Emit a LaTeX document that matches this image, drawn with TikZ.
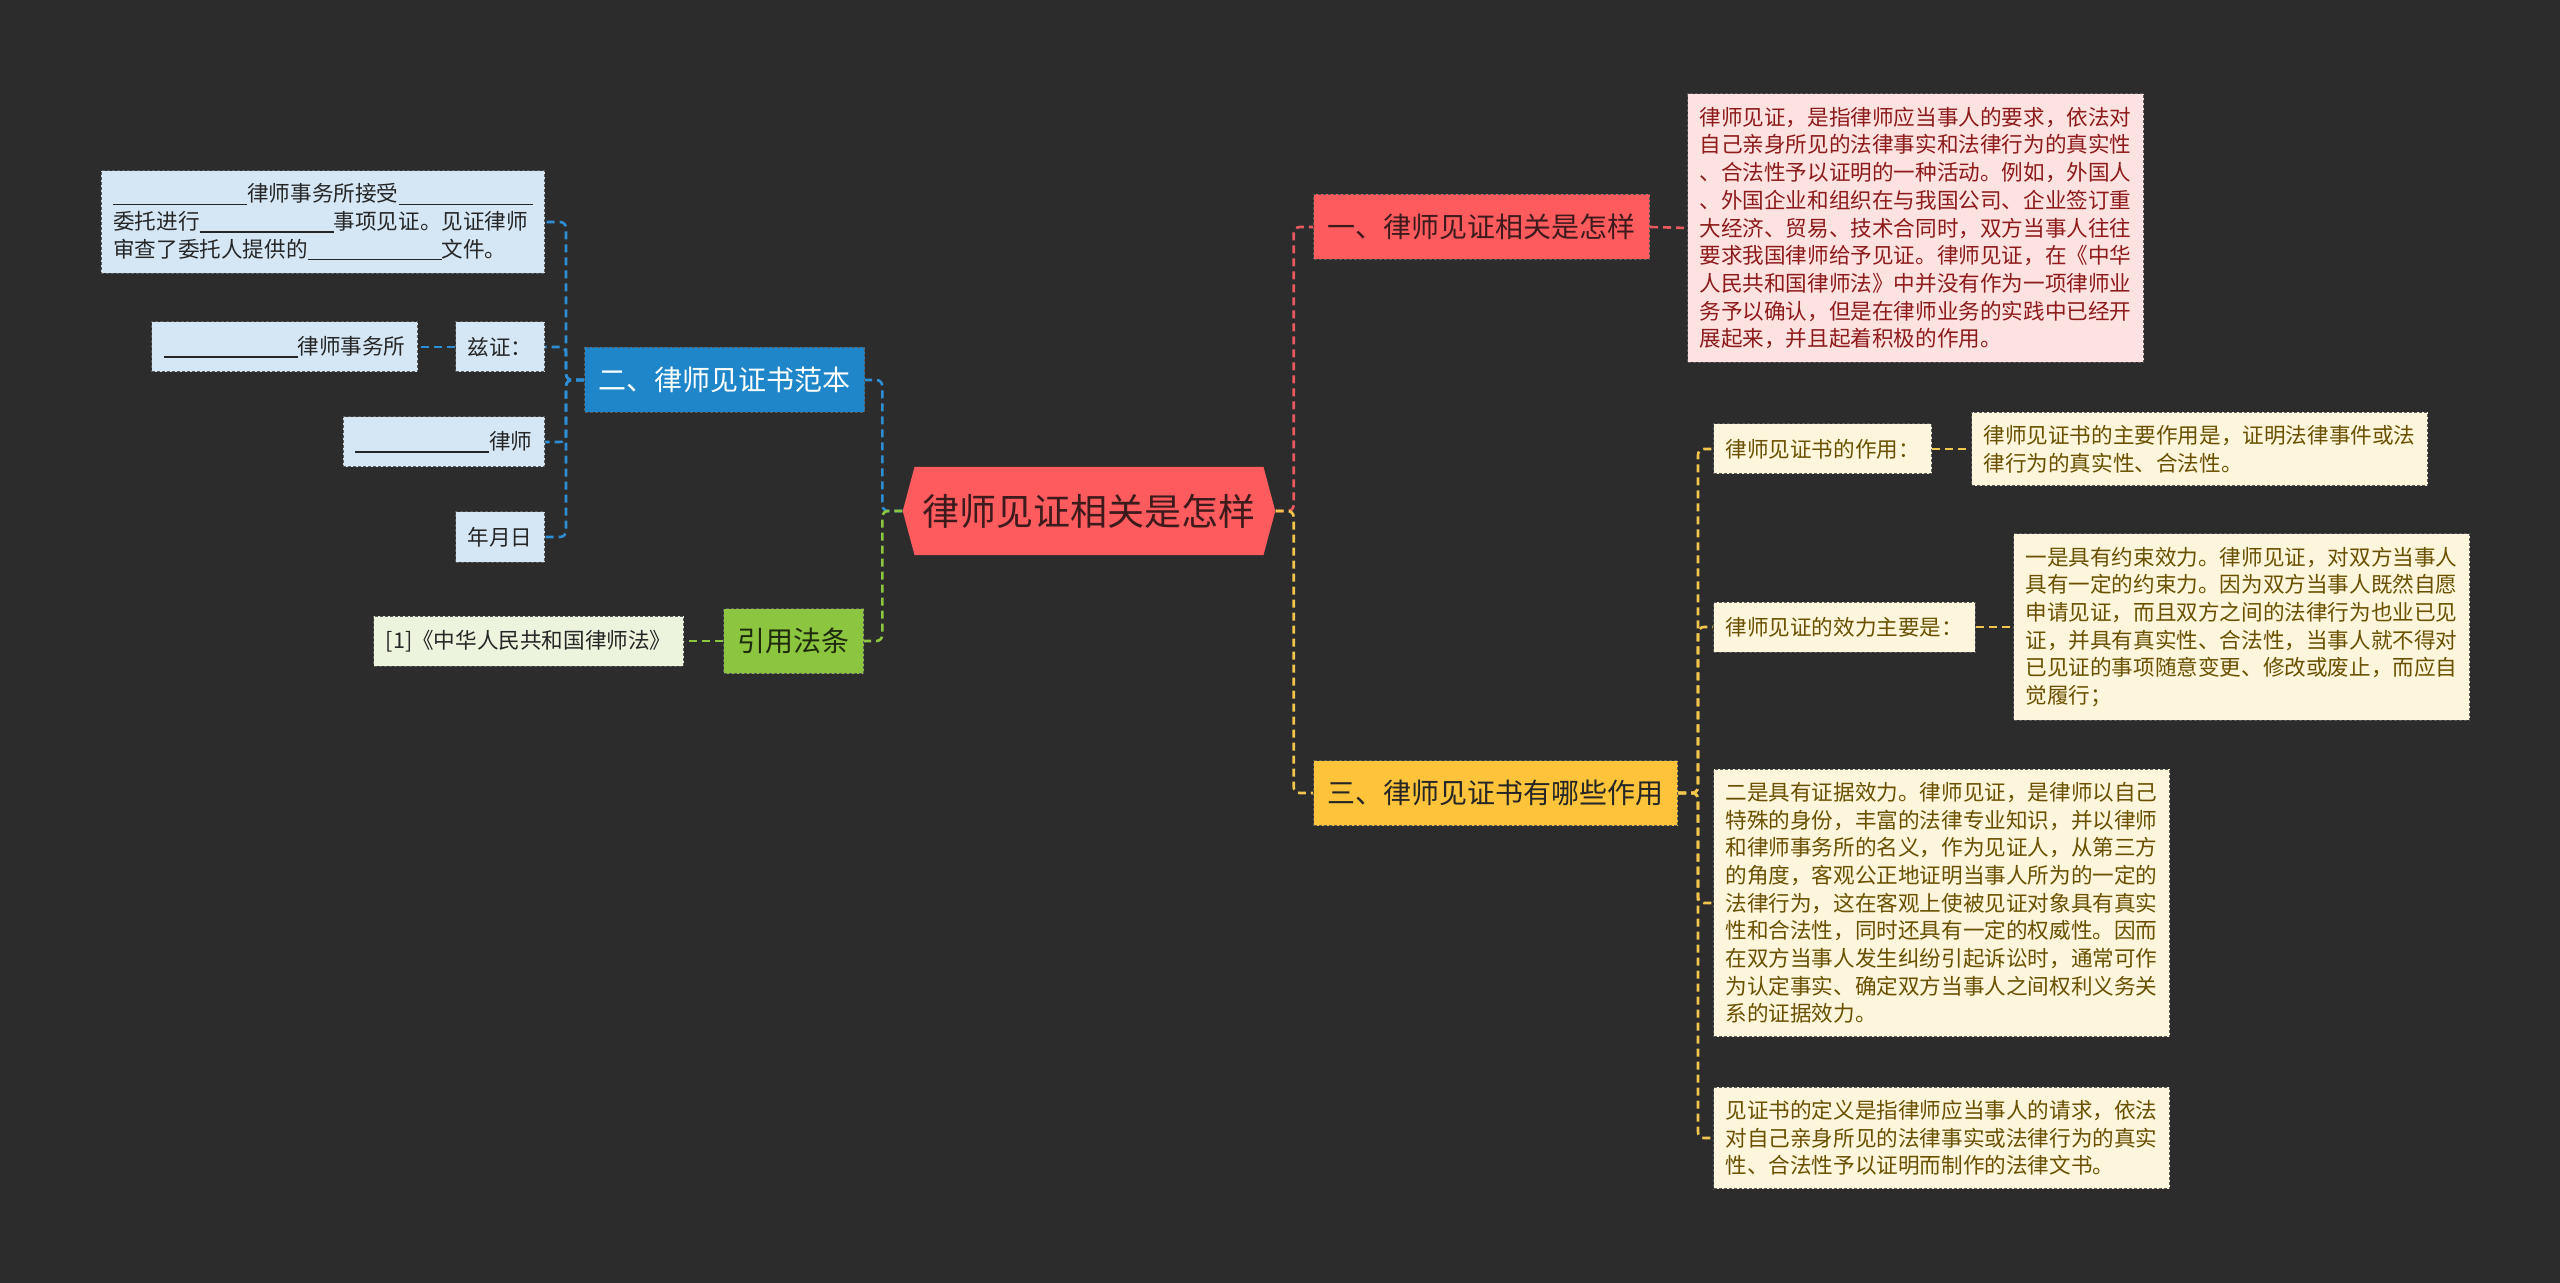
\documentclass[tikz,border=0pt]{standalone}
\usepackage{fontspec}
\newfontfamily\cjkfont{Noto Sans CJK SC}
\usetikzlibrary{shapes.symbols}
\definecolor{bgcol}{HTML}{2C2C2C}
\definecolor{rootred}{HTML}{FE5B5F}
\definecolor{rootink}{HTML}{3D1A1C}
\definecolor{pinkfill}{HTML}{FDE2E2}
\definecolor{pinkink}{HTML}{8E1B1B}
\definecolor{bluefill}{HTML}{1F86C9}
\definecolor{blueleaf}{HTML}{D5E7F5}
\definecolor{greenfill}{HTML}{8CC540}
\definecolor{greenleaf}{HTML}{EDF4DE}
\definecolor{greenink}{HTML}{1E2A0C}
\definecolor{yellowfill}{HTML}{FDC33B}
\definecolor{yellowleaf}{HTML}{FDF6DD}
\definecolor{yellowink}{HTML}{6A5000}
\definecolor{bluelinkc}{HTML}{2E8ED4}
\definecolor{greenlinkc}{HTML}{8CC63F}
\definecolor{redlinkc}{HTML}{E85A60}
\definecolor{yellowlinkc}{HTML}{F2C64C}
\newcommand{\gapline}{\rule[-1.5pt]{67pt}{0.6pt}}
\tikzset{
    rootnode/.style={signal, signal to=east and west, signal pointer angle=150,
    	fill=rootred, text=rootink, minimum height=44pt, inner xsep=4pt,
    	font=\cjkfont\fontsize{18.5pt}{20pt}\selectfont}
}
\tikzset{
    topic/.style={rectangle, draw=black!65, line width=0.5pt,
    	dash pattern=on 1.5pt off 1pt, minimum height=32.5pt, inner xsep=7pt,
    	font=\cjkfont\fontsize{14pt}{16pt}\selectfont},
    leaf/.style={rectangle, draw=black!65, line width=0.5pt,
    	dash pattern=on 1.5pt off 1pt, minimum height=25pt, inner xsep=6pt,
    	inner ysep=6.5pt, align=left,
    	font=\cjkfont\fontsize{10.8pt}{13.85pt}\selectfont}
}
\tikzset{
    link/.style={line width=1.3pt, dash pattern=on 4pt off 2.5pt,
    	rounded corners=3pt},
    bluelink/.style={link, draw=bluelinkc},
    greenlink/.style={link, draw=greenlinkc},
    redlink/.style={link, draw=redlinkc},
    yellowlink/.style={link, draw=yellowlinkc}
}
\pgfdeclarelayer{background}
\pgfsetlayers{background,main}

\begin{document}
\begin{tikzpicture}[x=0.5pt, y=-0.5pt]
  \begin{pgfonlayer}{background}
    \path[use as bounding box, fill=bgcol] (0,0) rectangle (2560,1283);
  \end{pgfonlayer}

  \node[rootnode] (root) at (1089, 511) {律师见证相关是怎样};

  \node[topic, fill=rootred, text=rootink, anchor=west] (b1) at (1313, 227) {一、律师见证相关是怎样};
  \node[topic, fill=bluefill, text=white, anchor=east] (b2) at (865, 380) {二、律师见证书范本};
  \node[topic, fill=yellowfill, text=black!85, anchor=west] (b3) at (1313, 793) {三、律师见证书有哪些作用};
  \node[topic, fill=greenfill, text=greenink, anchor=east] (b4) at (864, 641) {引用法条};

  \node[leaf, fill=pinkfill, text=pinkink, anchor=west] (r1) at (1687, 228)
    {律师见证，是指律师应当事人的要求，依法对\\
     自己亲身所见的法律事实和法律行为的真实性\\
     、合法性予以证明的一种活动。例如，外国人\\
     、外国企业和组织在与我国公司、企业签订重\\
     大经济、贸易、技术合同时，双方当事人往往\\
     要求我国律师给予见证。律师见证，在《中华\\
     人民共和国律师法》中并没有作为一项律师业\\
     务予以确认，但是在律师业务的实践中已经开\\
     展起来，并且起着积极的作用。};

  \node[leaf, fill=blueleaf, text=black!85, anchor=east] (l1) at (545, 222)
    {\gapline 律师事务所接受\gapline\\
     委托进行\gapline 事项见证。见证律师\\
     审查了委托人提供的\gapline 文件。};
  \node[leaf, fill=blueleaf, text=black!85, anchor=east] (l2) at (545, 347) {兹证：};
  \node[leaf, fill=blueleaf, text=black!85, anchor=east] (l3) at (545, 442) {\gapline 律师};
  \node[leaf, fill=blueleaf, text=black!85, anchor=east] (l4) at (545, 537) {年月日};
  \node[leaf, fill=blueleaf, text=black!85, anchor=east] (l5) at (418, 347) {\gapline 律师事务所};

  \node[leaf, fill=greenleaf, text=black!85, anchor=east] (g1) at (684, 641) {[1]《中华人民共和国律师法》};

  \node[leaf, fill=yellowleaf, text=yellowink, anchor=west] (y1) at (1713, 449) {律师见证书的作用：};
  \node[leaf, fill=yellowleaf, text=yellowink, anchor=west] (y1d) at (1971, 449)
    {律师见证书的主要作用是，证明法律事件或法\\
     律行为的真实性、合法性。};
  \node[leaf, fill=yellowleaf, text=yellowink, anchor=west] (y2) at (1713, 627) {律师见证的效力主要是：};
  \node[leaf, fill=yellowleaf, text=yellowink, anchor=west] (y2d) at (2013, 627)
    {一是具有约束效力。律师见证，对双方当事人\\
     具有一定的约束力。因为双方当事人既然自愿\\
     申请见证，而且双方之间的法律行为也业已见\\
     证，并具有真实性、合法性，当事人就不得对\\
     已见证的事项随意变更、修改或废止，而应自\\
     觉履行；};
  \node[leaf, fill=yellowleaf, text=yellowink, anchor=west] (y3) at (1713, 903)
    {二是具有证据效力。律师见证，是律师以自己\\
     特殊的身份，丰富的法律专业知识，并以律师\\
     和律师事务所的名义，作为见证人，从第三方\\
     的角度，客观公正地证明当事人所为的一定的\\
     法律行为，这在客观上使被见证对象具有真实\\
     性和合法性，同时还具有一定的权威性。因而\\
     在双方当事人发生纠纷引起诉讼时，通常可作\\
     为认定事实、确定双方当事人之间权利义务关\\
     系的证据效力。};
  \node[leaf, fill=yellowleaf, text=yellowink, anchor=west] (y4) at (1713, 1138)
    {见证书的定义是指律师应当事人的请求，依法\\
     对自己亲身所见的法律事实或法律行为的真实\\
     性、合法性予以证明而制作的法律文书。};

  \begin{pgfonlayer}{background}
    \draw[bluelink] (root.west) -- ++(-20,0) |- (b2.east);
    \draw[greenlink] (root.west) -- ++(-20,0) |- (b4.east);
    \draw[redlink] (root.east) -- ++(18,0) |- (b1.west);
    \draw[yellowlink] (root.east) -- ++(18,0) |- (b3.west);
    \draw[redlink] (b1.east) -- (r1.west);
    \draw[bluelink] (b2.west) -- ++(-18,0) |- (l1.east);
    \draw[bluelink] (b2.west) -- ++(-18,0) |- (l2.east);
    \draw[bluelink] (b2.west) -- ++(-18,0) |- (l3.east);
    \draw[bluelink] (b2.west) -- ++(-18,0) |- (l4.east);
    \draw[bluelink] (l2.west) -- (l5.east);
    \draw[greenlink] (b4.west) -- (g1.east);
    \draw[yellowlink] (b3.east) -- ++(20,0) |- (y1.west);
    \draw[yellowlink] (b3.east) -- ++(20,0) |- (y2.west);
    \draw[yellowlink] (b3.east) -- ++(20,0) |- (y3.west);
    \draw[yellowlink] (b3.east) -- ++(20,0) |- (y4.west);
    \draw[yellowlink] (y1.east) -- (y1d.west);
    \draw[yellowlink] (y2.east) -- (y2d.west);
  \end{pgfonlayer}
\end{tikzpicture}
\end{document}
